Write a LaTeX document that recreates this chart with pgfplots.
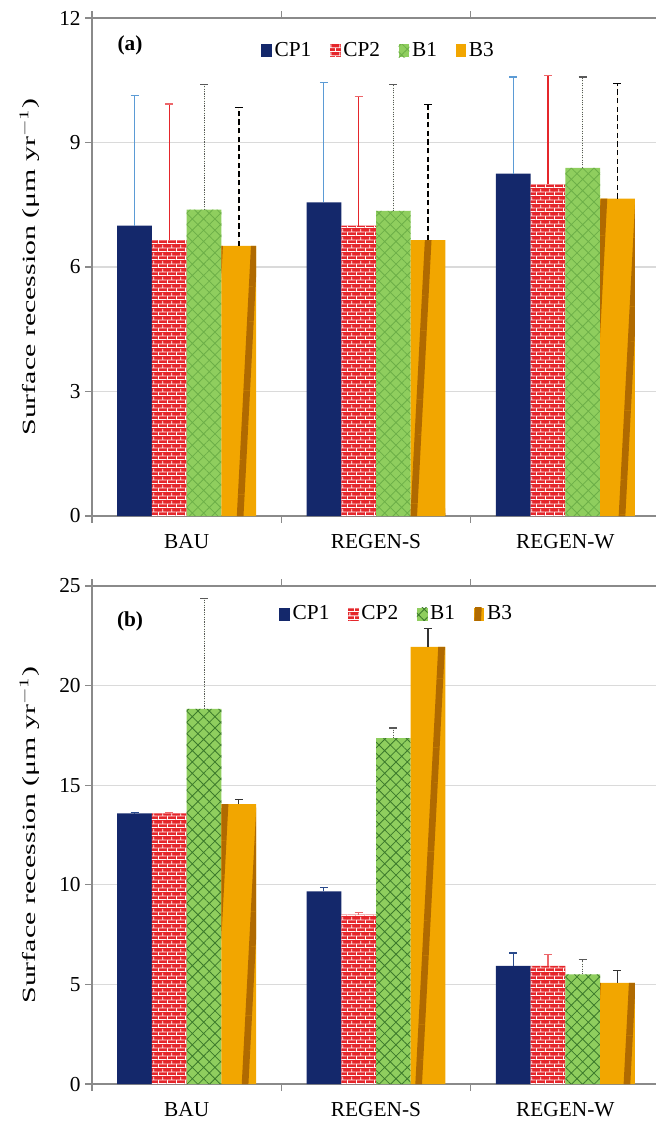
\documentclass[border=0pt]{standalone}
\usepackage{fontspec}
\setmainfont{Liberation Serif}
\usepackage{pgfplots}
\pgfplotsset{compat=1.18}
\usetikzlibrary{patterns,patterns.meta}

\definecolor{cpone}{HTML}{14286B}
\definecolor{cptwo}{HTML}{E5262B}
\definecolor{bone}{HTML}{8FCE5E}
\definecolor{bonel}{HTML}{3C7A2C}
\definecolor{bonela}{HTML}{6CAF48}
\definecolor{bthree}{HTML}{F2A600}
\definecolor{bthreed}{HTML}{B06A00}
\definecolor{gridc}{HTML}{DADADA}
\definecolor{axisc}{HTML}{8A8A8A}
\definecolor{errblue}{HTML}{5B9BD5}

\pgfdeclarepatternformonly{mybricks}{\pgfqpoint{0pt}{0pt}}{\pgfqpoint{7pt}{6pt}}{\pgfqpoint{7pt}{6pt}}{%
  \pgfsetlinewidth{0.7pt}%
  \pgfpathmoveto{\pgfqpoint{0pt}{0.35pt}}\pgfpathlineto{\pgfqpoint{7pt}{0.35pt}}%
  \pgfpathmoveto{\pgfqpoint{0pt}{3.35pt}}\pgfpathlineto{\pgfqpoint{7pt}{3.35pt}}%
  \pgfpathmoveto{\pgfqpoint{0.35pt}{0pt}}\pgfpathlineto{\pgfqpoint{0.35pt}{3.35pt}}%
  \pgfpathmoveto{\pgfqpoint{3.85pt}{3.35pt}}\pgfpathlineto{\pgfqpoint{3.85pt}{6pt}}%
  \pgfusepath{stroke}}

\tikzset{emark/.style={rotate=90, draw=#1, mark size=3pt, line width=0.9pt, solid}}

\pgfplotsset{
  mybars/.style={
    scale only axis, width=426pt, height=373.5pt,
    ybar=0pt, bar width=0.1835,
    xmin=-0.5, xmax=2.5,
    xtick={-0.5,0.5,1.5,2.5},
    x tick label as interval,
    xticklabels={BAU,REGEN-S,REGEN-W},
    xticklabel style={font=\fontsize{16}{18}\selectfont, yshift=-5pt},
    yticklabel style={font=\fontsize{16}{18}\selectfont},
    /pgf/number format/assume math mode=true,
    ymajorgrids, grid style={draw=gridc, line width=0.8pt},
    axis line style={draw=axisc, line width=0.8pt},
    tick style={draw=axisc, line width=0.8pt},
    tick align=outside, major tick length=5pt,
    ylabel={\scalebox{1.6}[1]{Surface recession (μm yr$^{-1}$)}},
    ylabel style={font=\fontsize{14}{16}\selectfont, at={(axis description cs:-0.11,0.5)}, anchor=center},
    legend style={font=\fontsize{16}{18}\selectfont, draw=none, fill=none,
      legend columns=4, inner sep=0pt,
      /tikz/every even column/.append style={column sep=12pt}},
    legend image code/.code={\path[#1, draw=none] (1pt,-5pt) rectangle (9pt,4.5pt);},
    legend cell align=left,
  },
  sCPone/.style={fill=cpone, draw=none},
  sCPtwo/.style={fill=cptwo, draw=none, postaction={pattern=mybricks, pattern color=white!92!pink}},
  sBone/.style={fill=bone, draw=none, postaction={pattern={Hatch[angle=45, distance=6pt, line width=0.6pt]}, pattern color=#1}},
  sBthree/.style={fill=bthree, draw=none, postaction={pattern={Lines[angle=87, distance=26pt, line width=5pt]}, pattern color=bthreed}},
}

\begin{document}
\begin{tikzpicture}

% ---------------- panel (a)
\begin{axis}[mybars, at={(69pt,-387pt)}, anchor=south west,
  ymin=0, ymax=12, ytick={0,3,6,9,12},
  legend style={at={(0.505,0.935)}, anchor=center}]
\addplot[sCPone, error bars/.cd, y dir=plus, y explicit,
  error bar style={draw=errblue, line width=0.8pt, solid},
  error mark options={emark=errblue}]
  coordinates {(0,7.00) +- (0,3.14) (1,7.56) +- (0,2.88) (2,8.25) +- (0,2.33)};
\addplot[sCPtwo, error bars/.cd, y dir=plus, y explicit,
  error bar style={draw=cptwo, line width=0.8pt, solid},
  error mark options={emark=cptwo!70}]
  coordinates {(0,6.65) +- (0,3.28) (1,7.00) +- (0,3.10) (2,7.99) +- (0,2.63)};
\addplot[sBone=bonela, error bars/.cd, y dir=plus, y explicit,
  error bar style={draw=gray!70!black, line width=0.8pt, densely dotted},
  error mark options={emark=gray!70!black}]
  coordinates {(0,7.38) +- (0,3.02) (1,7.35) +- (0,3.05) (2,8.39) +- (0,2.19)};
\addplot[sBthree, error bars/.cd, y dir=plus, y explicit,
  error bar style={draw=black, line width=1.2pt, dash pattern=on 4pt off 2.5pt},
  error mark options={emark=black}]
  coordinates {(0,6.51) +- (0,3.34) (1,6.65) +- (0,3.27) (2,7.65) +- (0,2.77)};
\legend{CP1,CP2,B1,B3}
\node[font=\fontsize{16}{18}\selectfont\bfseries] at (axis description cs:0.067,0.946) {(a)};
\end{axis}

% ---------------- panel (b)
\begin{axis}[mybars, at={(69pt,-813pt)}, anchor=south west,
  ymin=0, ymax=25, ytick={0,5,10,15,20,25},
  legend style={at={(0.537,0.944)}, anchor=center}]
\addplot[sCPone, error bars/.cd, y dir=plus, y explicit,
  error bar style={draw=cpone!70!errblue, line width=0.8pt, solid},
  error mark options={emark=cpone!70!errblue}]
  coordinates {(0,13.58) +- (0,0.05) (1,9.67) +- (0,0.21) (2,5.93) +- (0,0.65)};
\addplot[sCPtwo, error bars/.cd, y dir=plus, y explicit,
  error bar style={draw=cptwo!70, line width=0.8pt, solid},
  error mark options={emark=cptwo!70}]
  coordinates {(0,13.58) +- (0,0.05) (1,8.50) +- (0,0.13) (2,5.93) +- (0,0.59)};
\addplot[sBone=bonel, error bars/.cd, y dir=plus, y explicit,
  error bar style={draw=gray!70!black, line width=0.8pt, densely dotted},
  error mark options={emark=gray!70!black}]
  coordinates {(0,18.83) +- (0,5.54) (1,17.37) +- (0,0.50) (2,5.50) +- (0,0.75)};
\addplot[sBthree, error bars/.cd, y dir=plus, y explicit,
  error bar style={draw=black!80, line width=1pt, solid},
  error mark options={emark=black!80}]
  coordinates {(0,14.05) +- (0,0.23) (1,21.95) +- (0,0.92) (2,5.08) +- (0,0.60)};
\legend{CP1,CP2,B1,B3}
\node[font=\fontsize{16}{18}\selectfont\bfseries] at (axis description cs:0.067,0.93) {(b)};
\end{axis}

\pgfresetboundingbox
\path[use as bounding box] (0pt,0pt) rectangle (492pt,-843pt);
\end{tikzpicture}
\end{document}
